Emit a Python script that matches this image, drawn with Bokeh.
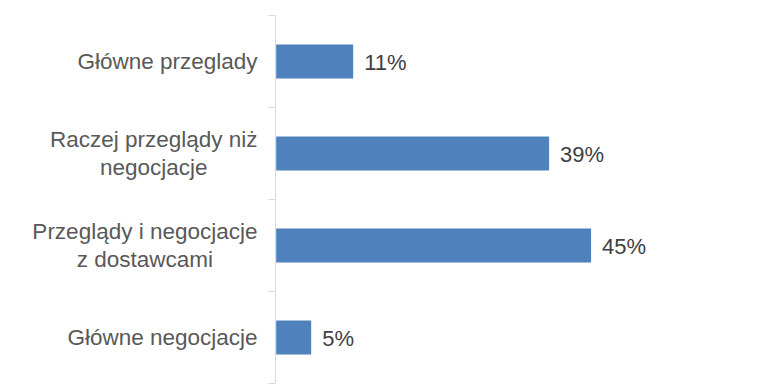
from bokeh.plotting import figure
from bokeh.layouts import row
from bokeh.models import ColumnDataSource, Range1d, FixedTicker
from bokeh.core.properties import value
from bokeh.embed import file_html
from bokeh.resources import INLINE

# Data (top to bottom as shown)
categories = [
    "Główne przeglady",
    "Raczej przeglądy niż\nnegocjacje",
    "Przeglądy i negocjacje\nz dostawcami",
    "Główne negocjacje",
]
values = [11, 39, 45, 5]
value_labels = ["11%", "39%", "45%", "5%"]

n = len(categories)
ypos = [n - i for i in range(n)]  # top category highest

source = ColumnDataSource(dict(y=ypos, v=values, lab=value_labels))
cat_source = ColumnDataSource(dict(y=ypos, cat=categories))

LABEL_W = 260
yr = Range1d(0.5, n + 0.5)

# Left panel holding the category labels
pl = figure(
    width=LABEL_W, height=386,
    output_backend="svg", toolbar_location=None,
    x_range=Range1d(0, LABEL_W), y_range=yr,
    x_axis_location=None, y_axis_location=None,
    min_border_left=0, min_border_right=0,
    min_border_top=15, min_border_bottom=3,
)
pl.outline_line_color = None
pl.xgrid.visible = False
pl.ygrid.visible = False
pl.text(x=LABEL_W - 3, y="y", text="cat", source=cat_source,
        text_align="center", anchor="center_right",
        text_font=value("Liberation Sans"), text_font_size="22.5px",
        text_color="#595959", text_line_height=1.1)

# Main bar panel
p = figure(
    width=772 - LABEL_W, height=386,
    output_backend="svg", toolbar_location=None,
    x_range=Range1d(-0.1, 69.5), y_range=yr,
    x_axis_location=None,
    min_border_left=15, min_border_right=10,
    min_border_top=15, min_border_bottom=3,
)
p.outline_line_color = None
p.xgrid.visible = False
p.ygrid.visible = False
p.background_fill_color = "white"
p.border_fill_color = "white"

p.hbar(y="y", left=0, right="v", height=0.37, source=source,
       fill_color="#4F81BD", line_color=None)

p.text(x="v", y="y", text="lab", source=source,
       x_offset=11, y_offset=1,
       text_align="left", text_baseline="middle",
       text_font=value("Liberation Sans"), text_font_size="22px",
       text_color="#404040")

ax = p.yaxis[0]
ax.ticker = FixedTicker(ticks=ypos, minor_ticks=[k + 0.5 for k in range(n + 1)])
ax.major_label_text_font_size = "0px"
ax.major_label_text_color = None
ax.major_label_standoff = 0
ax.major_tick_line_color = None
ax.major_tick_in = 0
ax.major_tick_out = 0
ax.minor_tick_in = 0
ax.minor_tick_out = 7
ax.minor_tick_line_color = "#d9d9d9"
ax.axis_line_color = "#d9d9d9"

layout = row(pl, p, spacing=0)
open("out.html", "w").write(file_html(layout, INLINE))
